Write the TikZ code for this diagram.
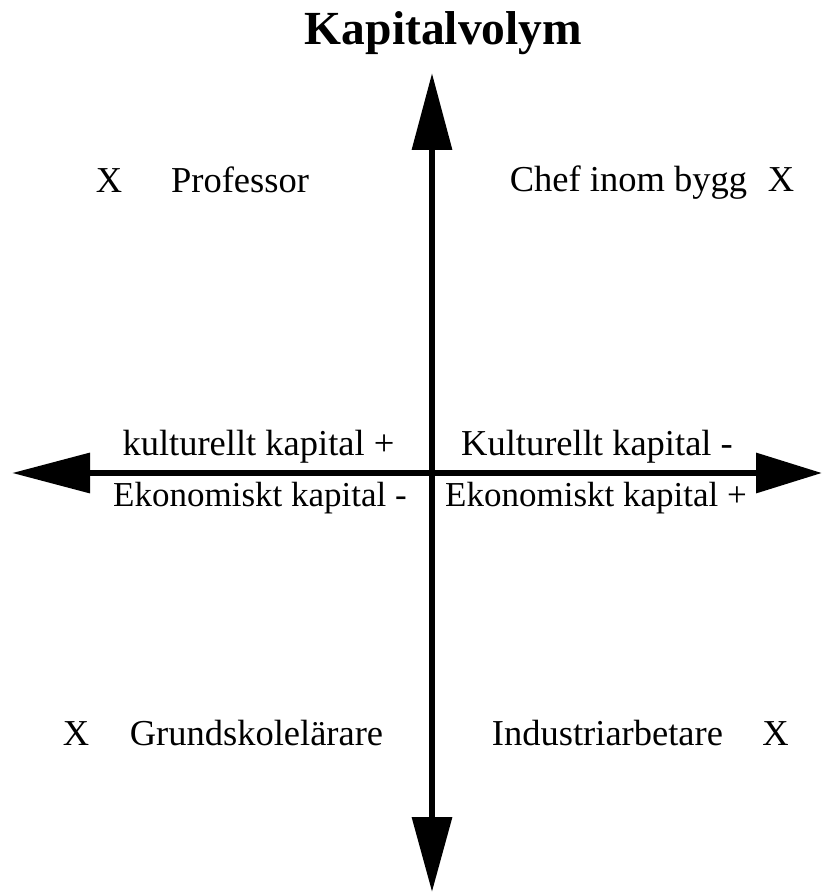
\documentclass[tikz,border=0pt]{standalone}
\usepackage{fontspec}
\setmainfont{Liberation Serif}
\usetikzlibrary{arrows.meta}
\begin{document}
\begin{tikzpicture}[x=1pt,y=-1pt,
  lbl/.style={anchor=base, inner sep=0pt, font=\fontsize{36.5}{40}\selectfont},
  lblsm/.style={anchor=base, inner sep=0pt, font=\fontsize{35}{40}\selectfont},
  ttl/.style={anchor=base, inner sep=0pt, font=\fontsize{47.5}{50}\selectfont\bfseries},
  axis/.style={line width=6.5pt}]
\useasboundingbox (0,0) rectangle (823,893);
\coordinate (top) at (432,73);
\coordinate (bottom) at (432,892);
\coordinate (left) at (12,473);
\coordinate (right) at (822,473);
\draw[axis, {Triangle[length=77pt,width=39pt]}-{Triangle[length=75pt,width=39pt]}] (top) -- (bottom);
\draw[axis, {Triangle[length=78pt,width=39pt]}-{Triangle[length=66pt,width=39pt]}] (left) -- (right);
\node[ttl] (title) at (443.5,45) {Kapitalvolym};
\node[lbl] (x1) at (109,193) {X};
\node[lbl] (prof) at (240,193) {Professor};
\node[lbl] (chef) at (628.5,192) {Chef inom bygg};
\node[lbl] (x2) at (781,192) {X};
\node[lbl] (x3) at (76,745) {X};
\node[lbl] (grund) at (256.5,745) {Grundskolelärare};
\node[lbl] (ind) at (607.5,745) {Industriarbetare};
\node[lbl] (x4) at (775.5,745) {X};
\node[lbl] (kul1) at (258.5,455) {kulturellt kapital +};
\node[lbl] (kul2) at (597,455) {Kulturellt kapital -};
\node[lblsm] (eko1) at (260,506) {Ekonomiskt kapital -};
\node[lblsm] (eko2) at (596,506) {Ekonomiskt kapital +};
\end{tikzpicture}
\end{document}
